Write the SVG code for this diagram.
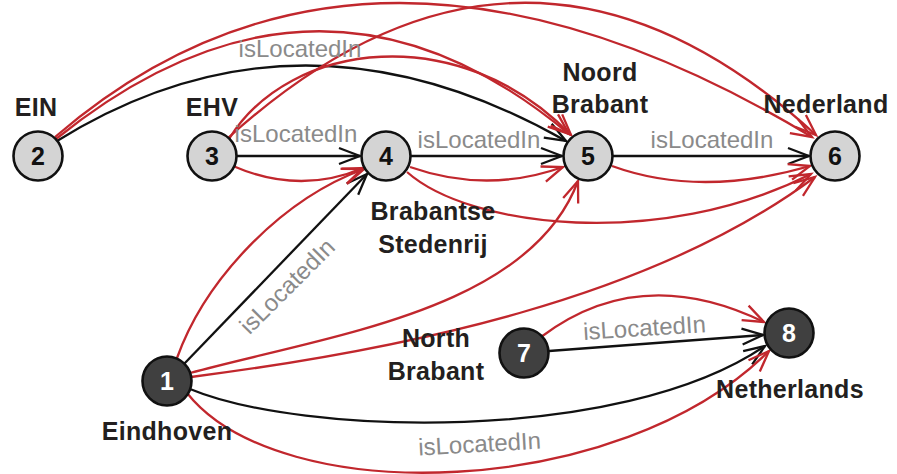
<svg xmlns="http://www.w3.org/2000/svg" width="897" height="474" viewBox="0 0 897 474">
  <style>
    .e { fill: none; stroke-width: 2.3; }
    .k { stroke: #111; marker-end: url(#ak); }
    .r { stroke: #c1272d; marker-end: url(#ar); }
    .n { stroke: #111; stroke-width: 2.6; }
    .lt { fill: #d4d4d4; }
    .dk { fill: #404040; }
    .num { font-family: "Liberation Sans", Arial, Helvetica, sans-serif; font-weight: bold; font-size: 25px; text-anchor: middle; }
    .lt-num { fill: #111; }
    .dk-num { fill: #fff; }
    .name { font-family: "Liberation Sans", Arial, Helvetica, sans-serif; font-weight: bold; font-size: 25px; letter-spacing: 0.3px; fill: #231f20; text-anchor: middle; }
    .el { font-family: "Liberation Sans", Arial, Helvetica, sans-serif; font-size: 24px; fill: #8a8a8a; text-anchor: middle; }
  </style>
  <defs>
    <marker id="ak" markerUnits="userSpaceOnUse" viewBox="-2 -2 26 20" markerWidth="26" markerHeight="20" refX="21" refY="8" orient="auto">
      <path d="M0,0 L21,8 L0,16" fill="none" stroke="#111" stroke-width="2.3"/>
    </marker>
    <marker id="ar" markerUnits="userSpaceOnUse" viewBox="-2 -2 26 20" markerWidth="26" markerHeight="20" refX="21" refY="8" orient="auto">
      <path d="M0,0 L21,8 L0,16" fill="none" stroke="#c1272d" stroke-width="2.3"/>
    </marker>
  </defs>

  <g id="connectors">
    <!-- black isLocatedIn edges -->
    <path class="e k" d="M57,141 Q300,-10 566,141"/>
    <path class="e k" d="M237,156 L360,156"/>
    <path class="e k" d="M411,156 L562,156"/>
    <path class="e k" d="M613,156 L809,156"/>
    <path class="e k" d="M184,364 L367,174"/>
    <path class="e k" d="M549,351 L763,335"/>
    <path class="e k" d="M190,389 C300,435 620,445 765,346"/>
    <!-- red derived edges -->
    <path class="e r" d="M56,139 Q320,-74 569,134"/>
    <path class="e r" d="M55,137 Q366,-131 812,137"/>
    <path class="e r" d="M229,139 C290,40 460,20 571,135"/>
    <path class="e r" d="M228,138 Q525,-131 816,135"/>
    <path class="e r" d="M233,166 Q300,195 363,168"/>
    <path class="e r" d="M410,167 Q487,194 563,167"/>
    <path class="e r" d="M407,172 C470,228 660,250 811,174"/>
    <path class="e r" d="M612,166 Q700,198 810,166"/>
    <path class="e r" d="M177,358 C205,280 280,200 364,169"/>
    <path class="e r" d="M190,373 C330,335 530,310 578,181"/>
    <path class="e r" d="M191,377 C400,350 650,300 815,177"/>
    <path class="e r" d="M187,393 C280,510 620,500 769,351"/>
    <path class="e r" d="M541,337 Q640,262 764,322"/>
    <!-- edge labels -->
    <text class="el" x="300" y="57">isLocatedIn</text>
    <text class="el" x="296" y="142">isLocatedIn</text>
    <text class="el" x="479" y="148">isLocatedIn</text>
    <text class="el" x="712" y="148">isLocatedIn</text>
    <text class="el" transform="translate(293,292) rotate(-45)">isLocatedIn</text>
    <text class="el" transform="translate(645,336) rotate(-3.7)">isLocatedIn</text>
    <text class="el" transform="translate(480,452) rotate(-3.2)">isLocatedIn</text>
  </g>

  <g id="node-1">
    <circle class="n dk" cx="167" cy="381" r="24.5"/>
    <text class="num dk-num" x="167" y="390">1</text>
    <text class="name" x="167" y="440">Eindhoven</text>
  </g>
  <g id="node-2">
    <circle class="n lt" cx="38" cy="156" r="24.5"/>
    <text class="num lt-num" x="38" y="165">2</text>
    <text class="name" x="36" y="116">EIN</text>
  </g>
  <g id="node-3">
    <circle class="n lt" cx="212" cy="156" r="24.5"/>
    <text class="num lt-num" x="212" y="165">3</text>
    <text class="name" x="212" y="116">EHV</text>
  </g>
  <g id="node-4">
    <circle class="n lt" cx="386" cy="156" r="24.5"/>
    <text class="num lt-num" x="386" y="165">4</text>
    <text class="name" x="433" y="220">Brabantse</text>
    <text class="name" x="433" y="253">Stedenrij</text>
  </g>
  <g id="node-5">
    <circle class="n lt" cx="588" cy="156" r="24.5"/>
    <text class="num lt-num" x="588" y="165">5</text>
    <text class="name" x="600" y="81">Noord</text>
    <text class="name" x="600" y="113">Brabant</text>
  </g>
  <g id="node-6">
    <circle class="n lt" cx="835" cy="156" r="24.5"/>
    <text class="num lt-num" x="835" y="165">6</text>
    <text class="name" x="826" y="113">Nederland</text>
  </g>
  <g id="node-7">
    <circle class="n dk" cx="524" cy="353" r="24.5"/>
    <text class="num dk-num" x="524" y="362">7</text>
    <text class="name" x="436" y="347">North</text>
    <text class="name" x="436" y="380">Brabant</text>
  </g>
  <g id="node-8">
    <circle class="n dk" cx="789" cy="333" r="24.5"/>
    <text class="num dk-num" x="789" y="342">8</text>
    <text class="name" x="790" y="398">Netherlands</text>
  </g>
</svg>
